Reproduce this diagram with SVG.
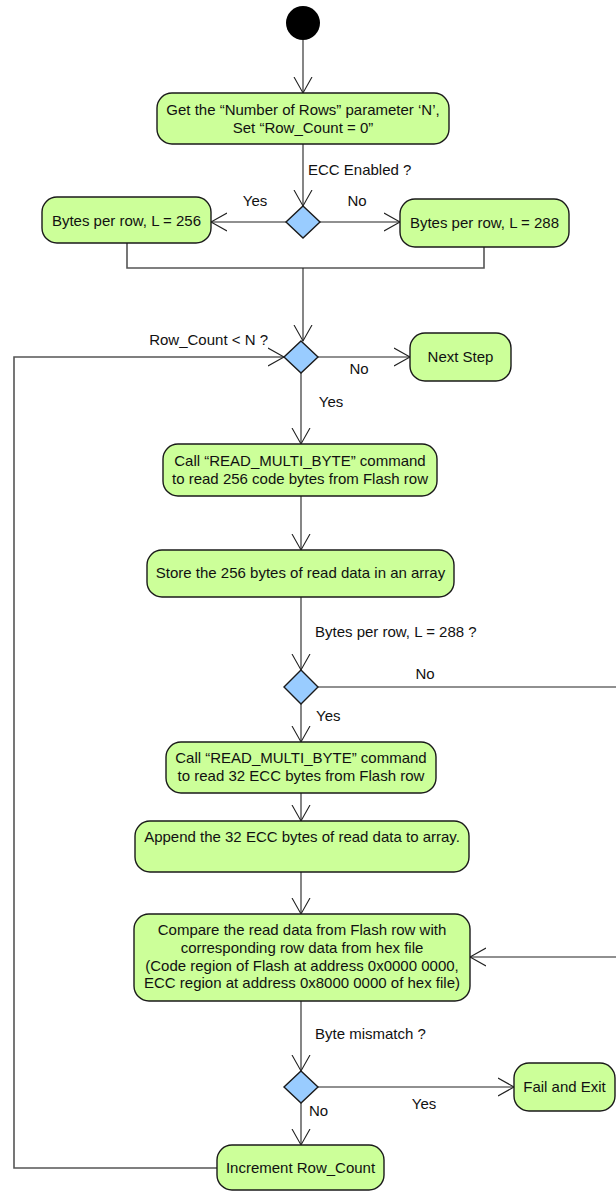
<svg xmlns="http://www.w3.org/2000/svg" width="616" height="1191" viewBox="0 0 616 1191">
  <style>
    .act { fill: #ccff99; stroke: #1a1a1a; stroke-width: 1.4; }
    .dec { fill: #99ccff; stroke: #1a1a1a; stroke-width: 1.4; }
    .lbl { font-family: "Liberation Sans", Arial, sans-serif; font-size: 15px; fill: #111; }
    .mid { text-anchor: middle; }
    .end { text-anchor: end; }
    .flow { fill: none; stroke: #222; stroke-width: 1.1; }
    .join { fill: none; stroke: #555; stroke-width: 1.6; }
  </style>
  <defs>
    <marker id="open" markerUnits="userSpaceOnUse" markerWidth="18" markerHeight="20" viewBox="0 0 18 20" refX="16" refY="10" orient="auto">
      <path d="M0,1 L16,10 L0,19" fill="none" stroke="#222" stroke-width="1.1"/>
    </marker>
  </defs>

  <!-- connectors -->
  <g id="connectors">
    <path class="flow" d="M303,40 V93" marker-end="url(#open)"/>
    <path class="flow" d="M303,144 V206" marker-end="url(#open)"/>
    <path class="flow" d="M286,222 H211" marker-end="url(#open)"/>
    <path class="flow" d="M320,222 H400" marker-end="url(#open)"/>
    <path class="join" d="M127,243 V268 H484 V247"/>
    <path class="flow" d="M303,268 V341" marker-end="url(#open)"/>
    <path class="flow" d="M318,357 H410" marker-end="url(#open)"/>
    <path class="flow" d="M301,373 V444" marker-end="url(#open)"/>
    <path class="flow" d="M301,496 V550" marker-end="url(#open)"/>
    <path class="flow" d="M301,597 V670" marker-end="url(#open)"/>
    <path class="flow" d="M318,687 H622 V957 H470" marker-end="url(#open)"/>
    <path class="flow" d="M301,704 V742" marker-end="url(#open)"/>
    <path class="flow" d="M301,793 V821" marker-end="url(#open)"/>
    <path class="flow" d="M301,872 V914" marker-end="url(#open)"/>
    <path class="flow" d="M301,1001 V1071" marker-end="url(#open)"/>
    <path class="flow" d="M318,1087 H514" marker-end="url(#open)"/>
    <path class="flow" d="M301,1103 V1145" marker-end="url(#open)"/>
    <path class="join" d="M217,1168 H14 V357 H270"/>
    <path class="flow" d="M270,357 H284" marker-end="url(#open)"/>

    <text class="lbl" x="308" y="175">ECC Enabled ?</text>
    <text class="lbl mid" x="255" y="206">Yes</text>
    <text class="lbl mid" x="357" y="206">No</text>
    <text class="lbl end" x="268" y="345">Row_Count &lt; N ?</text>
    <text class="lbl mid" x="359" y="374">No</text>
    <text class="lbl mid" x="331" y="407">Yes</text>
    <text class="lbl" x="315" y="637">Bytes per row, L = 288 ?</text>
    <text class="lbl mid" x="425" y="679">No</text>
    <text class="lbl" x="316" y="721">Yes</text>
    <text class="lbl" x="315" y="1039">Byte mismatch ?</text>
    <text class="lbl mid" x="424" y="1109">Yes</text>
    <text class="lbl" x="309" y="1116">No</text>
  </g>

  <g id="start">
    <circle cx="303" cy="23" r="17" fill="#000"/>
  </g>

  <g id="get-params">
    <rect class="act" x="157" y="93" width="292" height="51" rx="15"/>
    <text class="lbl mid" x="303" y="115">Get the “Number of Rows” parameter ‘N’,</text>
    <text class="lbl mid" x="303" y="133">Set “Row_Count = 0”</text>
  </g>

  <g id="ecc-enabled">
    <polygon class="dec" points="303,206 320,222 303,238 286,222"/>
  </g>

  <g id="bytes-256">
    <rect class="act" x="42" y="197" width="169" height="46" rx="15"/>
    <text class="lbl mid" x="126.5" y="226">Bytes per row, L = 256</text>
  </g>

  <g id="bytes-288">
    <rect class="act" x="400" y="199" width="169" height="48" rx="15"/>
    <text class="lbl mid" x="484.5" y="228">Bytes per row, L = 288</text>
  </g>

  <g id="row-check">
    <polygon class="dec" points="301,341 318,357 301,373 284,357"/>
  </g>

  <g id="next-step">
    <rect class="act" x="410" y="333" width="101" height="48" rx="15"/>
    <text class="lbl mid" x="460.5" y="362">Next Step</text>
  </g>

  <g id="read-code">
    <rect class="act" x="163" y="444" width="274" height="52" rx="15"/>
    <text class="lbl mid" x="300" y="466">Call “READ_MULTI_BYTE” command</text>
    <text class="lbl mid" x="300" y="484">to read 256 code bytes from Flash row</text>
  </g>

  <g id="store-data">
    <rect class="act" x="147" y="550" width="307" height="47" rx="15"/>
    <text class="lbl mid" x="300.5" y="578">Store the 256 bytes of read data in an array</text>
  </g>

  <g id="len-check">
    <polygon class="dec" points="301,670 318,687 301,704 284,687"/>
  </g>

  <g id="read-ecc">
    <rect class="act" x="166" y="742" width="270" height="51" rx="15"/>
    <text class="lbl mid" x="301" y="763">Call “READ_MULTI_BYTE” command</text>
    <text class="lbl mid" x="301" y="781">to read 32 ECC bytes from Flash row</text>
  </g>

  <g id="append-ecc">
    <rect class="act" x="135" y="821" width="334" height="51" rx="15"/>
    <text class="lbl mid" x="302" y="842">Append the 32 ECC bytes of read data to array.</text>
  </g>

  <g id="compare">
    <rect class="act" x="134" y="914" width="336" height="87" rx="15"/>
    <text class="lbl mid" x="302" y="935">Compare the read data from Flash row with</text>
    <text class="lbl mid" x="302" y="953">corresponding row data from hex file</text>
    <text class="lbl mid" x="302" y="971">(Code region of Flash at address 0x0000 0000,</text>
    <text class="lbl mid" x="302" y="988">ECC region at address 0x8000 0000 of hex file)</text>
  </g>

  <g id="mismatch-check">
    <polygon class="dec" points="301,1071 318,1087 301,1103 284,1087"/>
  </g>

  <g id="fail-exit">
    <rect class="act" x="514" y="1063" width="101" height="48" rx="15"/>
    <text class="lbl mid" x="564.5" y="1092">Fail and Exit</text>
  </g>

  <g id="increment">
    <rect class="act" x="217" y="1145" width="167" height="45" rx="15"/>
    <text class="lbl mid" x="300.5" y="1173">Increment Row_Count</text>
  </g>
</svg>
